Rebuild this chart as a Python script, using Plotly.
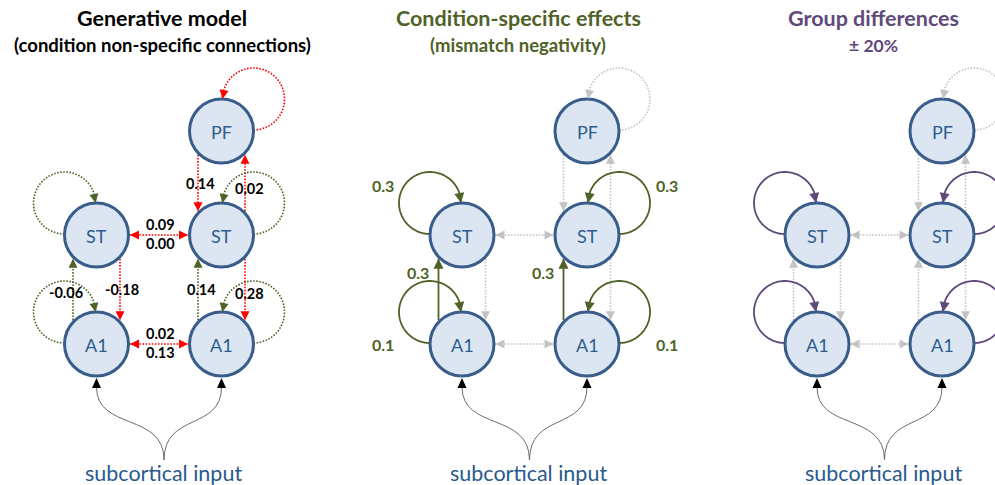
import numpy as np
import plotly.graph_objects as go

# ---------------- data ----------------
panel_titles = ["Generative model", "Condition-specific effects", "Group differences"]
input_label = "subcortical input"

node_ids = ["PF_R", "ST_L", "ST_R", "A1_L", "A1_R"]
node_names = ["PF", "ST", "ST", "A1", "A1"]
input_targets = ["A1_L", "A1_R"]

# generative model (condition non-specific connections)
gen_subtitle = "(condition non-specific connections)"
gen_src = ["PF_R", "ST_R", "ST_L", "ST_R", "ST_L", "A1_L", "A1_R", "ST_R", "A1_L", "A1_R",
           "PF_R", "ST_L", "ST_R", "A1_L", "A1_R"]
gen_dst = ["ST_R", "PF_R", "ST_R", "ST_L", "A1_L", "ST_L", "ST_R", "A1_R", "A1_R", "A1_L",
           "PF_R", "ST_L", "ST_R", "A1_L", "A1_R"]
gen_val = [0.14, 0.02, 0.09, 0.00, -0.18, -0.06, 0.14, 0.28, 0.02, 0.13,
           None, None, None, None, None]
gen_kind = ["ext", "ext", "ext", "ext", "ext", "int", "int", "ext", "ext", "ext",
            "ext", "int", "int", "int", "int"]

# condition-specific effects (mismatch negativity)
mmn_subtitle = "(mismatch negativity)"
mmn_src = ["ST_L", "ST_R", "A1_L", "A1_R", "A1_L", "A1_R"]
mmn_dst = ["ST_L", "ST_R", "A1_L", "A1_R", "ST_L", "ST_R"]
mmn_val = [0.3, 0.3, 0.1, 0.1, 0.3, 0.3]

# group differences
grp_src = ["ST_L", "ST_R", "A1_L", "A1_R"]
grp_dst = ["ST_L", "ST_R", "A1_L", "A1_R"]
grp_change = 0.20

# ---------------- layout / style ----------------
FONT = "Lato"
RED = "#FF0000"
GREEN = "#4F6228"
PURPLE = "#5F497A"
GREY = "#C3C3C3"
NODE_FILL = "#DCE6F2"
NODE_LINE = "#385D8A"
NODE_TXT = "#2E5C8D"

panel_x0 = [96.5, 462, 817]
col_gap = 125
row_y = {"PF": 131, "ST": 235, "A1": 344}
R_OUT = 33.5
LANE = 23.5
title_x = [162, 518, 873]
title_color = ["#000000", GREEN, PURPLE]

label_nudge = {("PF_R", "ST_R"): (2, 0), ("ST_R", "PF_R"): (4, 5),
               ("ST_L", "A1_L"): (2, 0), ("A1_L", "ST_L"): (-7, 3),
               ("A1_R", "ST_R"): (3, 0), ("ST_R", "A1_R"): (4, 4)}

shapes = []
annotations = []


def pos(p, nid):
    col = 0 if nid.endswith("_L") else 1
    return np.array([panel_x0[p] + col * col_gap, row_y[nid[:2]]], float)


def add_head(tip, d, color, L=9.0, w=4.5):
    d = np.asarray(d, float)
    d = d / np.hypot(*d)
    base = tip - L * d
    n = np.array([-d[1], d[0]])
    p1, p2 = base + w * n, base - w * n
    shapes.append(dict(type="path", xref="x", yref="y", layer="above",
                       path=f"M{tip[0]:.2f},{tip[1]:.2f} L{p1[0]:.2f},{p1[1]:.2f} L{p2[0]:.2f},{p2[1]:.2f} Z",
                       fillcolor=color, line=dict(width=0)))


def line_style(color, dotted):
    if dotted:
        return dict(color=color, width=1.6, dash="1.6px,1.5px")
    return dict(color=color, width=1.8)


def add_path(pts, color, dotted):
    s = "M" + " L".join(f"{x:.2f},{y:.2f}" for x, y in pts)
    shapes.append(dict(type="path", xref="x", yref="y", layer="below", path=s,
                       line=line_style(color, dotted)))


def self_loop(p, nid, color, dotted, L, w):
    c = pos(p, nid)
    s = -1 if nid.endswith("_L") else 1
    r = 31.0
    C = np.array([c[0] + s * 32.0, c[1] - 32.0])
    phi = np.radians(np.linspace(90, 360, 80))
    pts = np.column_stack([C[0] - s * r * np.cos(phi), C[1] + r * np.sin(phi)])
    add_path(pts, color, dotted)
    tip = pts[-1]
    prev = np.array([C[0] - s * r * np.cos(np.radians(340)), C[1] + r * np.sin(np.radians(340))])
    add_head(tip, tip - prev, color, L, w)
    return C


def vertical(p, src, dst, color, dotted, L, w):
    a, b = pos(p, src), pos(p, dst)
    down = b[1] > a[1]
    pf = "PF" in (src[:2], dst[:2])
    sign = (-1 if down else 1) if pf else (1 if down else -1)
    x = a[0] + sign * LANE
    dy = np.sqrt(R_OUT ** 2 - LANE ** 2)
    y0 = a[1] + dy if down else a[1] - dy
    y1 = b[1] - dy if down else b[1] + dy
    add_path([(x, y0), (x, y1)], color, dotted)
    add_head(np.array([x, y1]), (0, 1 if down else -1), color, L, w)
    return np.array([x, (y0 + y1) / 2])


def lateral(p, left, right, color, dotted, L, w):
    a, b = pos(p, left), pos(p, right)
    x0, x1 = a[0] + R_OUT, b[0] - R_OUT
    add_path([(x0, a[1]), (x1, a[1])], color, dotted)
    add_head(np.array([x1, a[1]]), (1, 0), color, L, w)
    add_head(np.array([x0, a[1]]), (-1, 0), color, L, w)
    return np.array([(x0 + x1) / 2, a[1]])


def text(x, y, t, size, color, bold=False):
    annotations.append(dict(x=x, y=y, xref="x", yref="y", text=(f"<b>{t}</b>" if bold else t),
                            showarrow=False, xanchor="center", yanchor="middle",
                            font=dict(family=FONT, size=size, color=color)))


def fmt2(v):
    return f"{v:.2f}"


lateral_mid = {}


def draw_panel(p, src, dst, styler, labeler):
    lateral_mid.clear()
    for i, (s, d) in enumerate(zip(src, dst)):
        color, dotted, L, w = styler(i, s, d)
        if s == d:
            C = self_loop(p, s, color, dotted, L, w)
            labeler(p, i, s, d, "loop", C)
        elif s[-1] == d[-1]:
            m = vertical(p, s, d, color, dotted, L, w)
            labeler(p, i, s, d, "vert", m)
        else:
            key = tuple(sorted((s, d)))
            if key not in lateral_mid:
                left, right = (s, d) if s.endswith("_L") else (d, s)
                lateral_mid[key] = lateral(p, left, right, color, dotted, L, w)
            labeler(p, i, s, d, "lat", lateral_mid[key])


# ---------- panel 1: generative model ----------
def style_gen(i, s, d):
    c = RED if gen_kind[i] == "ext" else GREEN
    return c, True, 9.0, 4.5


def label_gen(p, i, s, d, kind, m):
    v = gen_val[i]
    if v is None:
        return
    if kind == "vert":
        nx, ny = label_nudge.get((s, d), (2, 0))
        text(m[0] + nx, m[1] + ny, fmt2(v), 14.5, "#000000", True)
    elif kind == "lat":
        dy = -11 if s.endswith("_L") else 8.5
        text(m[0] + 1, m[1] + dy, fmt2(v), 14.5, "#000000", True)


draw_panel(0, gen_src, gen_dst, style_gen, label_gen)


# ---------- panels 2 & 3 ----------
def make_styler(hsrc, hdst, hcolor):
    hl = set(zip(hsrc, hdst))

    def st(i, s, d):
        if (s, d) in hl:
            return hcolor, False, 10.0, 5.0
        return GREY, True, 9.0, 4.5
    return st


def make_labeler(hsrc, hdst, hvals, color):
    lut = dict(zip(zip(hsrc, hdst), hvals)) if hvals is not None else {}

    def lb(p, i, s, d, kind, m):
        if (s, d) not in lut:
            return
        t = f"{lut[(s, d)]:.1f}"
        if kind == "loop":
            sgn = -1 if s.endswith("_L") else 1
            c = pos(p, s)
            dy = -50 if s[:2] == "ST" else 0
            text(c[0] + sgn * 79.5, c[1] + dy, t, 16, color, True)
        elif kind == "vert":
            text(m[0] - 21, m[1] - 17, t, 16, color, True)
    return lb


draw_panel(1, gen_src, gen_dst, make_styler(mmn_src, mmn_dst, GREEN),
           make_labeler(mmn_src, mmn_dst, mmn_val, GREEN))
draw_panel(2, gen_src, gen_dst, make_styler(grp_src, grp_dst, PURPLE),
           make_labeler(grp_src, grp_dst, None, PURPLE))

# ---------- nodes, inputs, titles ----------
subtitles = [gen_subtitle, mmn_subtitle, f"± {grp_change:.0%}"]
for p in range(3):
    for nid, name in zip(node_ids, node_names):
        c = pos(p, nid)
        r = 32.0
        shapes.append(dict(type="circle", xref="x", yref="y", layer="below",
                           x0=c[0] - r, x1=c[0] + r, y0=c[1] - r, y1=c[1] + r,
                           fillcolor=NODE_FILL, line=dict(color=NODE_LINE, width=3)))
        text(c[0], c[1] + 1, name, 18, NODE_TXT)
    mid = panel_x0[p] + col_gap / 2
    sx, sy = mid + 5, 460
    for t in input_targets:
        c = pos(p, t)
        tipy = c[1] + R_OUT + 0.5
        by = tipy + 9
        path = f"M{sx:.2f},{sy} C{sx:.2f},{sy - 48} {c[0]:.2f},{by + 44} {c[0]:.2f},{by}"
        shapes.append(dict(type="path", xref="x", yref="y", layer="below", path=path,
                           line=dict(color="#6B6B6B", width=1)))
        add_head(np.array([c[0], tipy]), (0, -1), "#000000", 10.0, 4.5)
    text(mid + 4, 473, input_label, 21.5, "#2A5A8C")
    text(title_x[p], 18, panel_titles[p], 21.5, title_color[p], True)
    text(title_x[p], 45, subtitles[p], 18.5 if p < 2 else 17.5, title_color[p], True)

fig = go.Figure()
fig.add_trace(go.Scatter(x=[0, 995], y=[0, 485], mode="markers",
                         marker=dict(opacity=0), hoverinfo="skip", showlegend=False))
fig.update_layout(width=995, height=485, margin=dict(l=0, r=0, t=0, b=0),
                  paper_bgcolor="white", plot_bgcolor="white",
                  xaxis=dict(range=[0, 995], visible=False, fixedrange=True),
                  yaxis=dict(range=[485, 0], visible=False, fixedrange=True),
                  shapes=shapes, annotations=annotations, showlegend=False)
fig.write_html("out.html", config={"displayModeBar": False},
               post_script="document.body.style.margin='0';document.body.style.overflow='hidden';")
